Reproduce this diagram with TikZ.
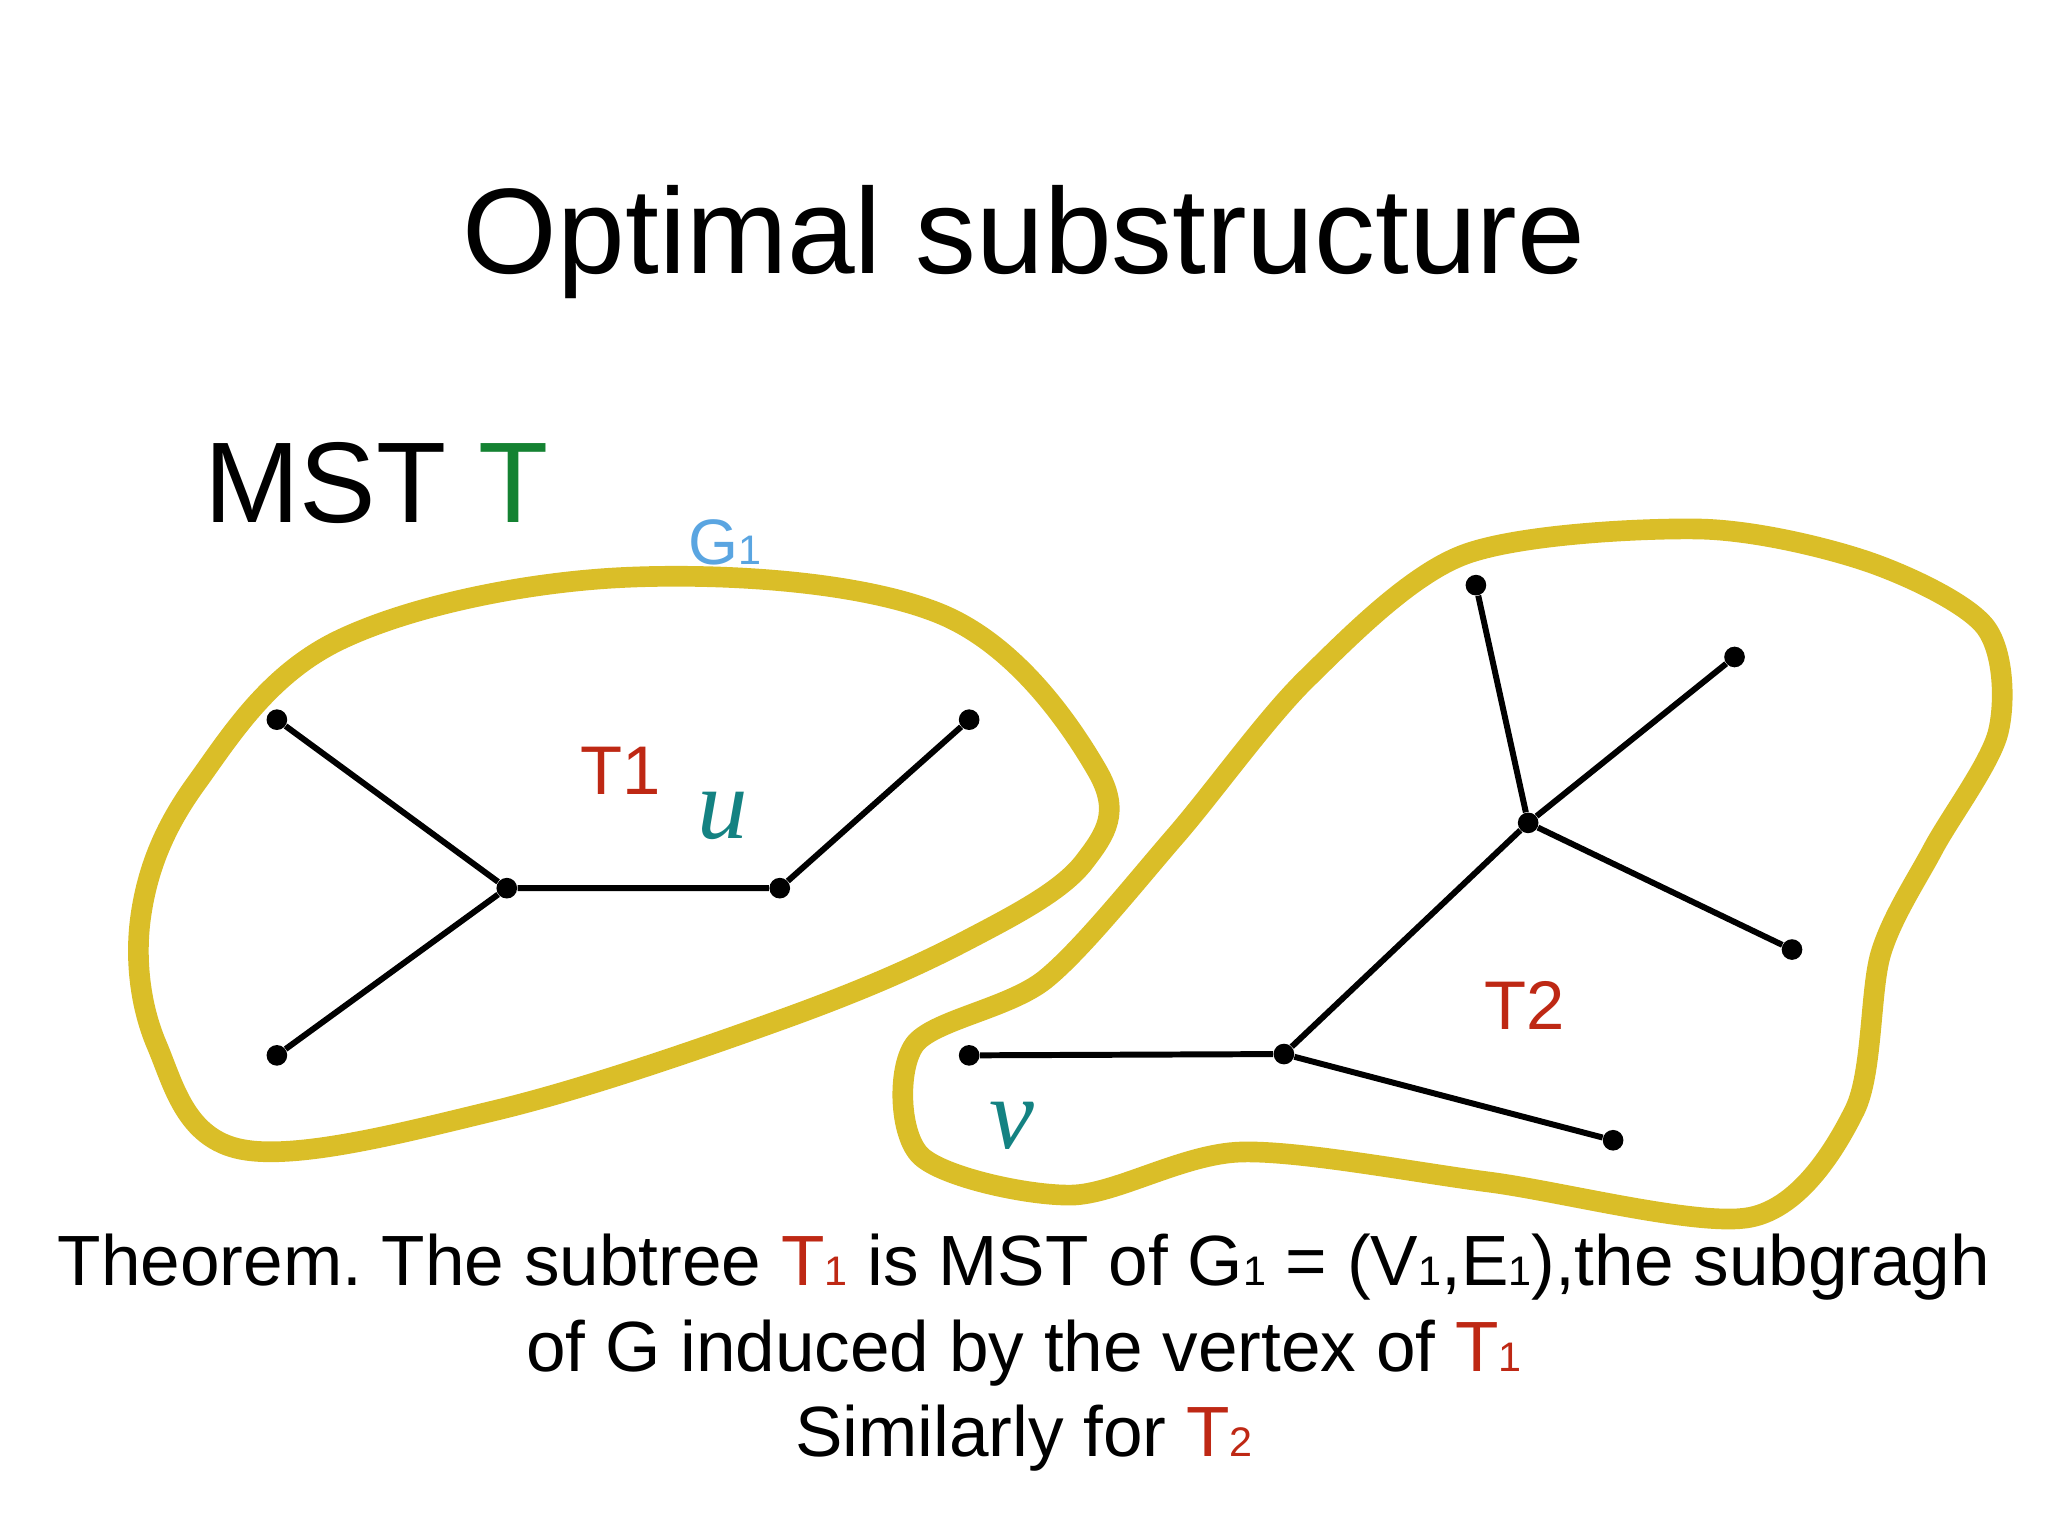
\documentclass[tikz,border=0pt]{standalone}
\usepackage{fontspec}
\setmainfont{Liberation Sans}
\definecolor{blob}{RGB}{218,190,40}
\definecolor{tred}{RGB}{190,40,20}
\definecolor{tgreen}{RGB}{20,130,50}
\definecolor{tblue}{RGB}{90,165,225}
\definecolor{tteal}{RGB}{20,130,130}
\newcommand{\sub}[1]{{\fontsize{18}{18}\selectfont #1}}
\frenchspacing
\begin{document}
\begin{tikzpicture}[x=0.02cm,y=-0.02cm]
\tikzset{dot/.style={circle,fill=black,inner sep=0pt,minimum size=9pt},
 edge/.style={line width=2.6pt},
 outline/.style={draw=blob,line width=9pt}}
\useasboundingbox (0,0) rectangle (1568,1176);
\node at (784,185) {\fontsize{53}{60}\selectfont Optimal substructure};
\node at (288,370) {\fontsize{50}{55}\selectfont MST \textcolor{tgreen}{T}};
\draw[outline] plot[smooth cycle,tension=0.6] coordinates {(185,880)(120,800)(108,700)(150,600)(260,490)(480,442)(720,470)(840,590)(830,660)(740,720)(600,780)(380,850)};
\draw[outline] plot[smooth cycle,tension=0.5] coordinates {(1000,520)(1120,425)(1300,405)(1430,430)(1520,480)(1530,560)(1480,650)(1440,730)(1420,850)(1340,932)(1140,905)(950,882)(820,915)(705,885)(700,800)(800,750)(900,640)};
\node[dot] (a) at (212,551) {};
\node[dot] (b) at (212,808) {};
\node[dot] (c) at (388,680) {};
\node[dot] (d) at (597,680) {};
\node[dot] (e) at (742,551) {};
\draw[edge] (a)--(c) (b)--(c) (c)--(d) (d)--(e);
\node[dot] (f) at (1130,448) {};
\node[dot] (g) at (1328,503) {};
\node[dot] (h) at (1170,630) {};
\node[dot] (i) at (1372,727) {};
\node[dot] (j) at (983,807) {};
\node[dot] (k) at (742,808) {};
\node[dot] (l) at (1235,873) {};
\draw[edge] (f)--(h) (g)--(h) (i)--(h) (h)--(j) (k)--(j) (j)--(l);
\node[text=tred] (t1) at (475,590) {\fontsize{30}{30}\selectfont T1};
\node[text=tteal] (u) at (553,625) {\fontsize{44}{44}\selectfont\fontspec{Liberation Serif}\itshape u};
\node[text=tred] (t2) at (1167,770) {\fontsize{30}{30}\selectfont T2};
\node[text=tteal] (v) at (775,862) {\fontsize{44}{44}\selectfont\fontspec{Liberation Serif}\itshape v};
\node[text=tblue] (g1) at (555,415) {\fontsize{28}{28}\selectfont G\sub{1}};
\node (th) at (784,970) {\fontsize{31}{31}\selectfont Theorem. The subtree \textcolor{tred}{T\sub{1}} is MST of G\sub{1} = (V\sub{1},E\sub{1}),the subgragh};
\node (th2) at (784,1036) {\fontsize{31}{31}\selectfont of G induced by the vertex of \textcolor{tred}{T\sub{1}}};
\node (th3) at (784,1101) {\fontsize{31}{31}\selectfont Similarly for \textcolor{tred}{T\sub{2}}};
\end{tikzpicture}
\end{document}
